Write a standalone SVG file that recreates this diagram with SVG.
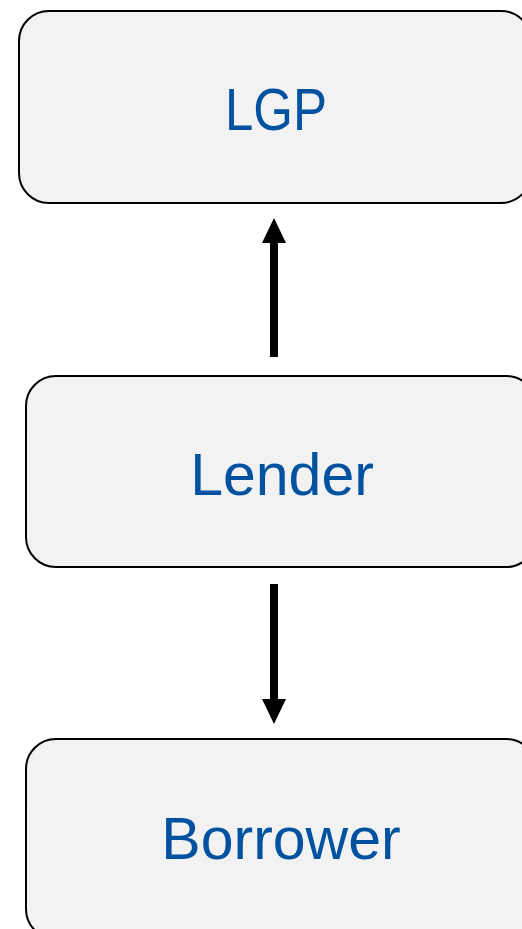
<svg xmlns="http://www.w3.org/2000/svg" width="522" height="929" viewBox="0 0 522 929">
<style>
.box{fill:#f2f2f2;stroke:#000;stroke-width:2}
.lbl{font-family:"Liberation Sans",Arial,sans-serif;font-size:59px;fill:#0052a0;text-anchor:middle}
.shaft{stroke:#000;stroke-width:8;fill:none}
.head{fill:#000}
</style>
<rect width="522" height="929" fill="#fff"/>
<g id="lgp">
<rect class="box" x="19" y="11" width="512" height="192" rx="30"/>
<text class="lbl" x="276" y="130" textLength="102" lengthAdjust="spacingAndGlyphs">LGP</text>
</g>
<g id="lender">
<rect class="box" x="26" y="376" width="510" height="191" rx="30"/>
<text class="lbl" x="282" y="495">Lender</text>
</g>
<g id="borrower">
<rect class="box" x="26" y="739" width="510" height="200" rx="30"/>
<text class="lbl" x="281" y="859">Borrower</text>
</g>
<g id="connectors">
<line class="shaft" x1="274" y1="357" x2="274" y2="240"/>
<polygon class="head" points="274,218 262,243 286,243"/>
<line class="shaft" x1="274" y1="584" x2="274" y2="702"/>
<polygon class="head" points="274,724 262,699 286,699"/>
</g>
</svg>
